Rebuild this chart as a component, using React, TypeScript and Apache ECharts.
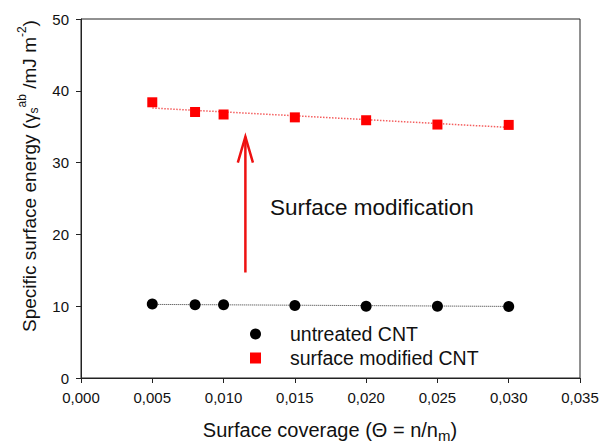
import React, { useEffect, useRef } from "react";
import * as echarts from "echarts";

const coverage = [0.005, 0.008, 0.01, 0.015, 0.02, 0.025, 0.03];
const untreatedCNT = [10.3, 10.2, 10.2, 10.1, 10.0, 10.0, 9.97];
const modifiedCNT = [38.4, 37.05, 36.7, 36.3, 35.9, 35.3, 35.25];
const fitRange = [0.005, 0.03];
const untreatedFit = [10.25, 9.97];
const modifiedFit = [37.6, 34.9];
const arrowX = 0.01153;
const arrowY = [14.7, 33.6];
const arrowHead = { dx: 0.00053, dy: 3.6 };

const FONT = "'Liberation Sans', Arial, sans-serif";

export default function App() {
  const ref = useRef<HTMLDivElement>(null);
  useEffect(() => {
    if (!ref.current) return;
    const chart = echarts.init(ref.current, undefined, { renderer: "svg" });
    const fmtX = (v: number) => v.toFixed(3).replace(".", ",");
    chart.setOption({
      animation: false,
      textStyle: { fontFamily: FONT, color: "#000" },
      grid: {
        left: 81,
        right: 22,
        top: 19,
        bottom: 67,
        show: true,
        borderColor: "#222",
        borderWidth: 1,
        backgroundColor: "transparent",
      },
      xAxis: {
        type: "value",
        min: 0,
        max: 0.035,
        interval: 0.005,
        axisLine: { show: true, lineStyle: { color: "#222", width: 1 } },
        axisTick: { show: true, length: 5, inside: false, lineStyle: { color: "#222" } },
        axisLabel: {
          formatter: fmtX,
          fontSize: 15,
          color: "#111",
          margin: 12,
          fontFamily: FONT,
          showMaxLabel: true,
          showMinLabel: true,
        },
        splitLine: { show: false },
      },
      yAxis: {
        type: "value",
        min: 0,
        max: 50,
        interval: 10,
        axisLine: { show: true, lineStyle: { color: "#222", width: 1 } },
        axisTick: { show: true, length: 5, inside: false, lineStyle: { color: "#222" } },
        axisLabel: { fontSize: 15, color: "#111", margin: 12, fontFamily: FONT },
        splitLine: { show: false },
      },
      legend: {
        orient: "vertical",
        left: 250,
        top: 324,
        padding: 0,
        itemWidth: 11,
        itemHeight: 11,
        itemGap: 4,
        textStyle: { fontSize: 19.5, color: "#111", fontFamily: FONT, padding: [0, 0, 0, 24] },
        data: [
          { name: "untreated CNT", icon: "circle" },
          { name: "surface modified CNT", icon: "rect" },
        ],
      },
      graphic: [
        {
          type: "text",
          x: 29,
          y: 176,
          rotation: Math.PI / 2,
          style: {
            text: "{a|Specific surface energy (γ}{sub|s}{sup|ab}{a| /mJ m}{sup|-2}{a|)}",
            align: "center",
            verticalAlign: "middle",
            fill: "#111",
            rich: {
              a: { fontSize: 19, fontFamily: FONT, fill: "#111" },
              sub: { fontSize: 12, fontFamily: FONT, fill: "#111", padding: [10, 0, 0, 0] },
              sup: { fontSize: 12, fontFamily: FONT, fill: "#111", padding: [0, 0, 14, 0] },
            },
          },
        },
        {
          type: "text",
          x: 330,
          y: 430,
          style: {
            text: "{a|Surface coverage (Θ = n/n}{sub|m}{a|)}",
            align: "center",
            verticalAlign: "middle",
            fill: "#111",
            rich: {
              a: { fontSize: 20, fontFamily: FONT, fill: "#111" },
              sub: { fontSize: 15, fontFamily: FONT, fill: "#111", padding: [10, 0, 0, 0] },
            },
          },
        },
        {
          type: "text",
          x: 270,
          y: 207,
          style: {
            text: "Surface modification",
            fontSize: 22.5,
            fontFamily: FONT,
            fill: "#111",
            align: "left",
            verticalAlign: "middle",
          },
        },
      ],
      series: [
        {
          name: "untreated fit",
          type: "line",
          data: fitRange.map((x, i) => [x, untreatedFit[i]]),
          symbol: "none",
          silent: true,
          lineStyle: { color: "#333", width: 1, type: "dotted" },
          z: 1,
        },
        {
          name: "modified fit",
          type: "line",
          data: fitRange.map((x, i) => [x, modifiedFit[i]]),
          symbol: "none",
          silent: true,
          lineStyle: { color: "rgba(240,40,40,0.75)", width: 1.5, type: "dotted" },
          z: 1,
        },
        {
          name: "untreated CNT",
          type: "scatter",
          data: coverage.map((x, i) => [x, untreatedCNT[i]]),
          symbol: "circle",
          symbolSize: 11,
          itemStyle: { color: "#000", opacity: 1 },
          z: 3,
        },
        {
          name: "surface modified CNT",
          type: "scatter",
          data: coverage.map((x, i) => [x, modifiedCNT[i]]),
          symbol: "rect",
          symbolSize: 10,
          itemStyle: { color: "#ff0000", opacity: 1 },
          z: 3,
        },
        {
          name: "arrow shaft",
          type: "line",
          data: [
            [arrowX, arrowY[0]],
            [arrowX, arrowY[1]],
          ],
          symbol: "none",
          silent: true,
          lineStyle: { color: "#ee1111", width: 2.5 },
          z: 2,
        },
        {
          name: "arrow head",
          type: "line",
          data: [
            [arrowX - arrowHead.dx, arrowY[1] - arrowHead.dy],
            [arrowX, arrowY[1]],
            [arrowX + arrowHead.dx, arrowY[1] - arrowHead.dy],
          ],
          symbol: "none",
          silent: true,
          lineStyle: { color: "#ee1111", width: 2.5, join: "miter" },
          z: 2,
        },
      ],
    });
    return () => chart.dispose();
  }, []);
  return (
    <div
      ref={ref}
      style={{ position: "fixed", left: 0, top: 0, width: 602, height: 445, background: "#fff" }}
    />
  );
}
